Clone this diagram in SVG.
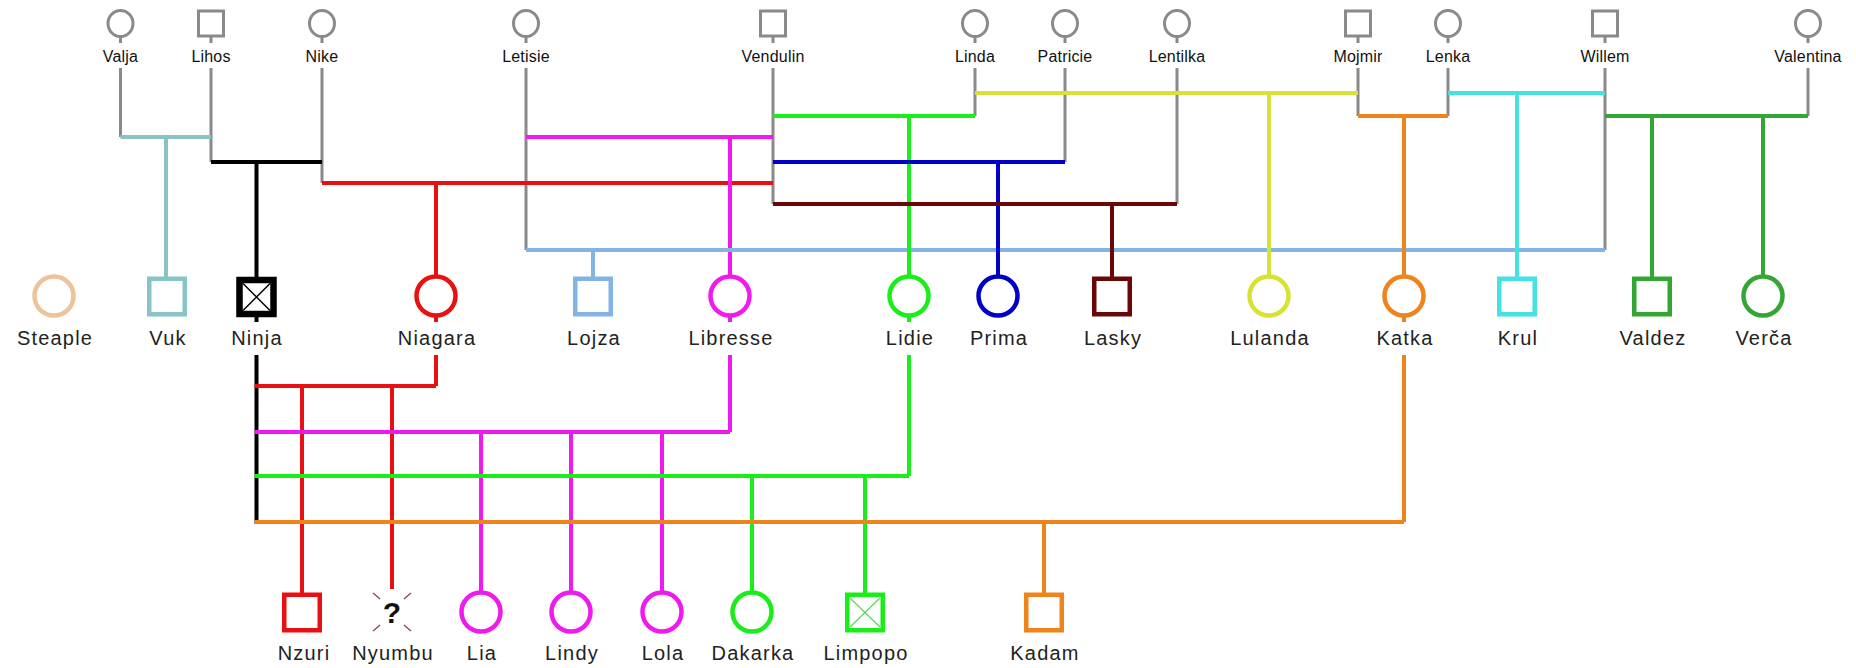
<svg xmlns="http://www.w3.org/2000/svg" width="1856" height="668" viewBox="0 0 1856 668">
  <style>
    .ln { fill: none; stroke-linecap: butt; }
    .gray { stroke: #8a8a8a; stroke-width: 3; }
    .c { stroke-width: 4; }
    .teal { stroke: #88c4c6; }
    .blk { stroke: #000000; }
    .red { stroke: #e81010; }
    .mag { stroke: #ee1aee; }
    .lblue { stroke: #82b4e6; }
    .grn { stroke: #1aee1a; }
    .blue { stroke: #0000c8; }
    .dred { stroke: #6a0808; }
    .yel { stroke: #d6e234; }
    .orn { stroke: #f0841c; }
    .cyan { stroke: #44e2e2; }
    .dgrn { stroke: #34a634; }
    .peach { stroke: #ecc49c; }
    .top { fill: #ffffff; stroke: #8a8a8a; stroke-width: 3; }
    .sym { fill: #ffffff; stroke-width: 4.5; }
    .tl { font-family: "Liberation Sans", Arial, sans-serif; font-size: 16px; fill: #111111; text-anchor: middle; letter-spacing: 0.2px; }
    .lb { font-family: "Liberation Sans", Arial, sans-serif; font-size: 20px; fill: #222222; text-anchor: middle; letter-spacing: 1.2px; }
    .q { font-family: "Liberation Sans", Arial, sans-serif; font-size: 30px; font-weight: bold; fill: #111111; text-anchor: middle; }
    .xl { stroke-width: 1.4; }
  </style>
  <rect width="1856" height="668" fill="#ffffff"/>

  <g id="connectors" class="ln">
    <!-- stubs under founders -->
    <g class="gray">
      <path d="M120.5 30V43M211 30V43M322 30V43M526 30V43M773 30V43M975 30V43M1065 30V43M1177 30V43M1358 30V43M1448 30V43M1605 30V43M1808 30V43"/>
      <!-- founder drops to couple lines -->
      <path d="M120.5 68V137M211 68V162M322 68V183M526 68V250M773 68V204M975 68V116M1065 68V162M1177 68V204M1358 68V116M1448 68V116M1605 68V250M1808 68V116"/>
    </g>

    <!-- first generation couples and their children -->
    <path class="c teal" d="M120.5 137H211M166 137V285"/>
    <path class="c blk" d="M211 162H322M256.5 162V285"/>
    <path class="c red" d="M322 183H773M436 183V285"/>
    <path class="c mag" d="M526 137H773M730 137V285"/>
    <path class="c lblue" d="M526 250H1605M593 250V285"/>
    <path class="c grn" d="M773 116H975M909 116V285"/>
    <path class="c blue" d="M773 162H1065M998 162V285"/>
    <path class="c dred" d="M773 204H1177M1112 204V285"/>
    <path class="c yel" d="M975 93H1358M1269 93V285"/>
    <path class="c orn" d="M1358 116H1448M1404 116V285"/>
    <path class="c cyan" d="M1448 93H1605M1517 93V285"/>
    <path class="c dgrn" d="M1605 116H1808M1652 116V285M1763 116V285"/>

    <!-- second generation couples -->
    <path class="c blk" d="M256.5 305V322M256.5 355V524"/>
    <path class="c red" d="M436 305V322M436 355V386M254.5 386H436M302 386V600M392 386V589"/>
    <path class="c mag" d="M730 305V322M730 355V432M254.5 432H730M481 432V600M571 432V600M662 432V600"/>
    <path class="c grn" d="M909 305V322M909 355V476M254.5 476H909M752 476V600M865 476V600"/>
    <path class="c orn" d="M1404 305V322M1404 355V522M254.5 522H1404M1044 522V600"/>
  </g>

  <!-- founders -->
  <g id="valja"><ellipse class="top" cx="120.5" cy="23.5" rx="12.5" ry="13"/><text class="tl" x="120.5" y="62">Valja</text></g>
  <g id="lihos"><rect class="top" x="198.5" y="11" width="25" height="25"/><text class="tl" x="211" y="62">Lihos</text></g>
  <g id="nike"><ellipse class="top" cx="322" cy="23.5" rx="12.5" ry="13"/><text class="tl" x="322" y="62">Nike</text></g>
  <g id="letisie"><ellipse class="top" cx="526" cy="23.5" rx="12.5" ry="13"/><text class="tl" x="526" y="62">Letisie</text></g>
  <g id="vendulin"><rect class="top" x="760.5" y="11" width="25" height="25"/><text class="tl" x="773" y="62">Vendulin</text></g>
  <g id="linda"><ellipse class="top" cx="975" cy="23.5" rx="12.5" ry="13"/><text class="tl" x="975" y="62">Linda</text></g>
  <g id="patricie"><ellipse class="top" cx="1065" cy="23.5" rx="12.5" ry="13"/><text class="tl" x="1065" y="62">Patricie</text></g>
  <g id="lentilka"><ellipse class="top" cx="1177" cy="23.5" rx="12.5" ry="13"/><text class="tl" x="1177" y="62">Lentilka</text></g>
  <g id="mojmir"><rect class="top" x="1345.5" y="11" width="25" height="25"/><text class="tl" x="1358" y="62">Mojmir</text></g>
  <g id="lenka"><ellipse class="top" cx="1448" cy="23.5" rx="12.5" ry="13"/><text class="tl" x="1448" y="62">Lenka</text></g>
  <g id="willem"><rect class="top" x="1592.5" y="11" width="25" height="25"/><text class="tl" x="1605" y="62">Willem</text></g>
  <g id="valentina"><ellipse class="top" cx="1808" cy="23.5" rx="12.5" ry="13"/><text class="tl" x="1808" y="62">Valentina</text></g>

  <!-- first generation -->
  <g id="steaple"><circle class="sym peach" cx="54" cy="296" r="19.5"/><text class="lb" x="55" y="345">Steaple</text></g>
  <g id="vuk"><rect class="sym teal" x="149.25" y="278.75" width="35.5" height="35.5"/><text class="lb" x="168" y="345">Vuk</text></g>
  <g id="ninja"><rect x="239.5" y="280" width="34" height="34" fill="#ffffff" stroke="#000000" stroke-width="6.5"/><path d="M243 283.5L270 310.5M270 283.5L243 310.5" stroke="#000000" stroke-width="1.5"/><text class="lb" x="257" y="345">Ninja</text></g>
  <g id="niagara"><circle class="sym red" cx="436" cy="296" r="19.5"/><text class="lb" x="437" y="345">Niagara</text></g>
  <g id="lojza"><rect class="sym lblue" x="575.25" y="278.75" width="35.5" height="35.5"/><text class="lb" x="594" y="345">Lojza</text></g>
  <g id="libresse"><circle class="sym mag" cx="730" cy="296" r="19.5"/><text class="lb" x="731" y="345">Libresse</text></g>
  <g id="lidie"><circle class="sym grn" cx="909" cy="296" r="19.5"/><text class="lb" x="910" y="345">Lidie</text></g>
  <g id="prima"><circle class="sym blue" cx="998" cy="296" r="19.5"/><text class="lb" x="999" y="345">Prima</text></g>
  <g id="lasky"><rect class="sym dred" x="1094.25" y="278.75" width="35.5" height="35.5"/><text class="lb" x="1113" y="345">Lasky</text></g>
  <g id="lulanda"><circle class="sym yel" cx="1269" cy="296" r="19.5"/><text class="lb" x="1270" y="345">Lulanda</text></g>
  <g id="katka"><circle class="sym orn" cx="1404" cy="296" r="19.5"/><text class="lb" x="1405" y="345">Katka</text></g>
  <g id="krul"><rect class="sym cyan" x="1499.25" y="278.75" width="35.5" height="35.5"/><text class="lb" x="1518" y="345">Krul</text></g>
  <g id="valdez"><rect class="sym dgrn" x="1634.25" y="278.75" width="35.5" height="35.5"/><text class="lb" x="1653" y="345">Valdez</text></g>
  <g id="verca"><circle class="sym dgrn" cx="1763" cy="296" r="19.5"/><text class="lb" x="1764" y="345">Verča</text></g>

  <!-- second generation -->
  <g id="nzuri"><rect class="sym red" x="284.25" y="594.75" width="35.5" height="35.5"/><text class="lb" x="304" y="660">Nzuri</text></g>
  <g id="nyumbu">
    <path d="M373 593L380 599M411 593L404 599M373 631L380 625M411 631L404 625" stroke="#8a4a4a" class="xl"/>
    <text class="q" x="392" y="623">?</text>
    <text class="lb" x="393" y="660">Nyumbu</text>
  </g>
  <g id="lia"><circle class="sym mag" cx="481" cy="612" r="19.5"/><text class="lb" x="482" y="660">Lia</text></g>
  <g id="lindy"><circle class="sym mag" cx="571" cy="612" r="19.5"/><text class="lb" x="572" y="660">Lindy</text></g>
  <g id="lola"><circle class="sym mag" cx="662" cy="612" r="19.5"/><text class="lb" x="663" y="660">Lola</text></g>
  <g id="dakarka"><circle class="sym grn" cx="752" cy="612" r="19.5"/><text class="lb" x="753" y="660">Dakarka</text></g>
  <g id="limpopo"><rect class="sym grn" x="847.25" y="594.75" width="35.5" height="35.5"/><path d="M850 598L880 627M880 598L850 627" stroke="#5ad85a" stroke-width="1.2"/><text class="lb" x="866" y="660">Limpopo</text></g>
  <g id="kadam"><rect class="sym orn" x="1026.25" y="594.75" width="35.5" height="35.5"/><text class="lb" x="1045" y="660">Kadam</text></g>
</svg>
